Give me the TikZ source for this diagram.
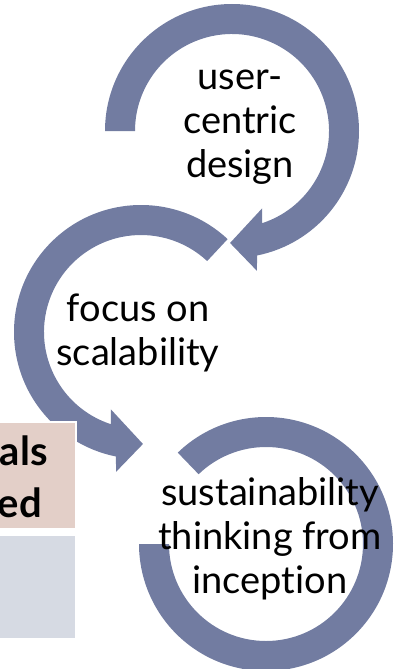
\documentclass[tikz,border=0pt]{standalone}
\usepackage{fontspec}
\setmainfont{Lato}[Ligatures=NoCommon]
\definecolor{ringblue}{RGB}{114,124,161}
\definecolor{goalpink}{RGB}{227,207,200}
\definecolor{goalgray}{RGB}{214,218,227}

\begin{document}
\begin{tikzpicture}[x=1pt,y=1pt]
\tikzset{
  ring/.style={fill=ringblue},
  ringtext/.style={font=\fontsize{38}{44}\selectfont,align=center,anchor=base,inner sep=0pt},
  goalbox/.style={draw=white,line width=2pt},
  goaltext/.style={font=\fontsize{40}{48}\selectfont\bfseries,anchor=base east,inner sep=0pt}
}
\clip (0,0) rectangle (397,-669);

% user-centric design
\coordinate (design) at (232,-131);
\fill[ring,shift={(design)}] (180:127) arc[start angle=180,end angle=-78.6,radius=127]
  -- (-79.9:142) -- (-91:112) -- (-68.7:83) -- (-71.9:97)
  arc[start angle=-71.9,end angle=180,radius=97] -- cycle;

% focus on scalability
\coordinate (scale) at (141,-332);
\fill[ring,shift={(scale)}] (47:127) arc[start angle=47,end angle=258.6,radius=127]
  -- (259.9:142) -- (271:112) -- (248.7:83) -- (251.9:97)
  arc[start angle=251.9,end angle=47,radius=97] -- cycle;

% sustainability
\coordinate (sustain) at (266,-544);
\fill[ring,shift={(sustain)}] (134:127) arc[start angle=134,end angle=-180,radius=127]
  -- (180:97) arc[start angle=-180,end angle=134,radius=97] -- cycle;

\node[goalbox,fill=goalpink,minimum width=77pt,minimum height=107pt,anchor=north west] (goals) at (-2,-421) {};
\node[goalbox,fill=goalgray,minimum width=77pt,minimum height=104pt,anchor=north west] (rest) at (-2,-534) {};
\node[goaltext] (goalsa) at (48,-465) {als};
\node[goaltext] (goalsb) at (42,-517) {ed};

\node[ringtext] (designtext) at (240,-177) {user-\\centric\\design};
\node[ringtext] (scaletext) at (138,-365) {focus on\\scalability};
\node[ringtext] (sustaintext) at (270,-593) {sustainability\\thinking from\\inception};
\end{tikzpicture}
\end{document}
